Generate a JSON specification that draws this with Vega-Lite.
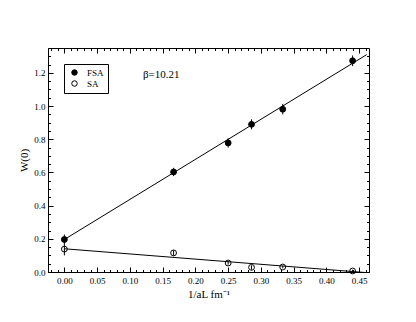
{
  "$schema": "https://vega.github.io/schema/vega-lite/v6.json",
  "width": 321,
  "height": 224,
  "autosize": "none",
  "padding": {"left": 48, "top": 48, "right": 47, "bottom": 50},
  "background": "white",
  "config": {
    "view": {"stroke": "black", "strokeWidth": 1},
    "font": "Liberation Serif",
    "axis": {"domainColor": "black", "tickColor": "black", "labelColor": "black", "titleColor": "black", "labelFont": "Liberation Serif", "titleFont": "Liberation Serif", "titleFontWeight": "normal", "labelFontSize": 9, "titleFontSize": 11, "grid": false}
  },
  "datasets": {
    "pts": [
      {"series": "FSA", "x": 0, "y": 0.196, "lo": 0.166, "hi": 0.226},
      {"series": "FSA", "x": 0.1667, "y": 0.603, "lo": 0.578, "hi": 0.628},
      {"series": "FSA", "x": 0.25, "y": 0.778, "lo": 0.75, "hi": 0.806},
      {"series": "FSA", "x": 0.2857, "y": 0.89, "lo": 0.86, "hi": 0.92},
      {"series": "FSA", "x": 0.3333, "y": 0.981, "lo": 0.95, "hi": 1.012},
      {"series": "FSA", "x": 0.44, "y": 1.273, "lo": 1.241, "hi": 1.305},
      {"series": "SA", "x": 0, "y": 0.138, "lo": 0.1, "hi": 0.168},
      {"series": "SA", "x": 0.1667, "y": 0.115, "lo": 0.1, "hi": 0.13},
      {"series": "SA", "x": 0.25, "y": 0.054, "lo": 0.044, "hi": 0.064},
      {"series": "SA", "x": 0.2857, "y": 0.028, "lo": 0.014, "hi": 0.04},
      {"series": "SA", "x": 0.3333, "y": 0.03, "lo": 0.022, "hi": 0.038},
      {"series": "SA", "x": 0.44, "y": 0.006, "lo": 0.0, "hi": 0.014}
    ],
    "fits": [
      {"series": "FSA", "x": 0, "y": 0.196},
      {"series": "FSA", "x": 0.4615, "y": 1.31},
      {"series": "SA", "x": 0, "y": 0.14},
      {"series": "SA", "x": 0.465, "y": -0.005}
    ],
    "notes": [
      {"x": 0.12, "y": 1.188, "label": "β=10.21"}
    ]
  },
  "layer": [
    {
      "data": {"name": "pts"},
      "mark": {"type": "rule", "color": "black", "strokeWidth": 1},
      "encoding": {
        "x": {"field": "x", "type": "quantitative", "scale": {"domain": [-0.025, 0.465], "nice": false, "zero": false},
          "axis": {"orient": "bottom", "title": "1/aL  fm⁻¹", "titlePadding": 3, "ticks": false,
            "values": [0,0.05,0.1,0.15,0.2,0.25,0.3,0.35,0.4,0.45], "format": ".2f",
            "labelPadding": 4, "labelFlush": false, "labelOverlap": false}},
        "y": {"field": "lo", "type": "quantitative", "scale": {"domain": [0, 1.35], "nice": false, "zero": false},
          "axis": {"orient": "left", "title": "W(0)", "titlePadding": 4, "ticks": false,
            "values": [0,0.2,0.4,0.6,0.8,1.0,1.2], "format": ".1f",
            "labelPadding": 3, "labelFlush": false, "labelOverlap": false}},
        "y2": {"field": "hi"}
      }
    },
    {
      "data": {"name": "fits"},
      "transform": [{"filter": "datum.series === 'FSA'"}],
      "mark": {"type": "line", "color": "black", "strokeWidth": 1, "clip": true},
      "encoding": {
        "x": {"field": "x", "type": "quantitative",
          "axis": {"orient": "top", "title": null, "labels": false, "domain": false, "tickSize": -5,
            "values": [0,0.05,0.1,0.15,0.2,0.25,0.3,0.35,0.4,0.45]}},
        "y": {"field": "y", "type": "quantitative",
          "axis": {"orient": "right", "title": null, "labels": false, "domain": false, "tickSize": -5,
            "values": [0,0.2,0.4,0.6,0.8,1.0,1.2]}}
      }
    },
    {
      "data": {"name": "fits"},
      "transform": [{"filter": "datum.series === 'SA'"}],
      "mark": {"type": "line", "color": "black", "strokeWidth": 1, "clip": true},
      "encoding": {
        "x": {"field": "x", "type": "quantitative",
          "axis": {"orient": "bottom", "title": null, "labels": false, "domain": false, "tickSize": -5,
            "values": [0,0.05,0.1,0.15,0.2,0.25,0.3,0.35,0.4,0.45]}},
        "y": {"field": "y", "type": "quantitative",
          "axis": {"orient": "left", "title": null, "labels": false, "domain": false, "tickSize": -5,
            "values": [0,0.2,0.4,0.6,0.8,1.0,1.2]}}
      }
    },
    {
      "data": {"name": "pts"},
      "mark": {"type": "point", "shape": "circle", "size": 34, "stroke": "black", "strokeWidth": 1, "opacity": 1},
      "encoding": {
        "x": {"field": "x", "type": "quantitative",
          "axis": {"orient": "top", "title": null, "labels": false, "domain": false, "tickSize": -2.5,
            "values": [-0.02,-0.01,0.01,0.02,0.03,0.04,0.06,0.07,0.08,0.09,0.11,0.12,0.13,0.14,0.16,0.17,0.18,0.19,0.21,0.22,0.23,0.24,0.26,0.27,0.28,0.29,0.31,0.32,0.33,0.34,0.36,0.37,0.38,0.39,0.41,0.42,0.43,0.44,0.46]}},
        "y": {"field": "y", "type": "quantitative",
          "axis": {"orient": "right", "title": null, "labels": false, "domain": false, "tickSize": -2.5,
            "values": [0.05,0.1,0.15,0.25,0.3,0.35,0.45,0.5,0.55,0.65,0.7,0.75,0.85,0.9,0.95,1.05,1.1,1.15,1.25,1.3]}},
        "fill": {"field": "series", "type": "nominal", "scale": {"domain": ["FSA", "SA"], "range": ["black", "transparent"]},
          "legend": {"title": null, "orient": "none", "legendX": 16, "legendY": 16, "strokeColor": "black", "padding": 4, "symbolType": "circle", "symbolSize": 30, "symbolStrokeColor": "black", "symbolStrokeWidth": 1, "labelFont": "Liberation Serif", "labelFontSize": 9, "labelColor": "black", "rowPadding": 0, "labelOffset": 8, "symbolOffset": 2}}
      }
    },
    {
      "data": {"name": "notes"},
      "mark": {"type": "text", "align": "left", "baseline": "middle", "font": "Liberation Serif", "fontSize": 11, "color": "black"},
      "encoding": {
        "x": {"field": "x", "type": "quantitative",
          "axis": {"orient": "bottom", "title": null, "labels": false, "domain": false, "tickSize": -2.5,
            "values": [-0.02,-0.01,0.01,0.02,0.03,0.04,0.06,0.07,0.08,0.09,0.11,0.12,0.13,0.14,0.16,0.17,0.18,0.19,0.21,0.22,0.23,0.24,0.26,0.27,0.28,0.29,0.31,0.32,0.33,0.34,0.36,0.37,0.38,0.39,0.41,0.42,0.43,0.44,0.46]}},
        "y": {"field": "y", "type": "quantitative",
          "axis": {"orient": "left", "title": null, "labels": false, "domain": false, "tickSize": -2.5,
            "values": [0.05,0.1,0.15,0.25,0.3,0.35,0.45,0.5,0.55,0.65,0.7,0.75,0.85,0.9,0.95,1.05,1.1,1.15,1.25,1.3]}},
        "text": {"field": "label"}
      }
    }
  ],
  "resolve": {"axis": {"x": "independent", "y": "independent"}}
}
